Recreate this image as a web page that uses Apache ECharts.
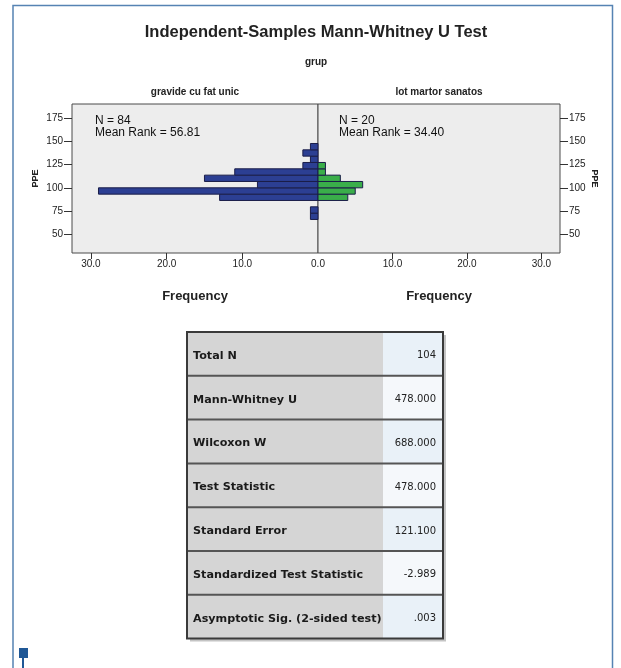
<!DOCTYPE html>
<html>
<head>
<meta charset="utf-8">
<script src="https://cdn.jsdelivr.net/npm/echarts@6/dist/echarts.min.js"></script>
<style>
  html, body { margin: 0; padding: 0; background: #ffffff; }
  #chart { width: 621px; height: 668px; }
</style>
</head>
<body>
<div id="chart"></div>
<script>
// PPE histogram bins (lower / upper edge of each bin)
const binLow  = [66.0, 72.8, 79.6, 86.4, 93.2, 100.0, 106.8, 113.6, 120.4, 127.2, 134.0, 140.8];
const binHigh = [72.8, 79.6, 86.4, 93.2, 100.0, 106.8, 113.6, 120.4, 127.2, 134.0, 140.8, 147.6];
// Frequencies per bin for each group
const countSingle  = [1, 1, 0, 13, 29, 8, 15, 11, 2, 1, 2, 1];   // N = 84
const countControl = [0, 0, 0, 4, 5, 6, 3, 1, 1, 0, 0, 0];       // N = 20

const groupNames = ['gravide cu fat unic', 'lot martor sanatos'];
const groupN = [84, 20];
const meanRanks = ['56.81', '34.40'];

const ppeTicks = [50, 75, 100, 125, 150, 175];
const freqTicksLeft = [10, 20, 30];
const freqTicksRight = [0, 10, 20, 30];

const tableLabels = ['Total N', 'Mann-Whitney U', 'Wilcoxon W', 'Test Statistic',
  'Standard Error', 'Standardized Test Statistic', 'Asymptotic Sig. (2-sided test)'];
const tableValues = ['104', '478.000', '688.000', '478.000', '121.100', '-2.989', '.003'];

const FONT = '"Liberation Sans", Arial, sans-serif';
const TFONT = '"DejaVu Sans", Tahoma, sans-serif';

function binRender(params, api) {
  const lo = api.value(0), hi = api.value(1), c = api.value(2);
  if (!c) return null;
  const a = api.coord([0, lo]);
  const b = api.coord([c, hi]);
  return {
    type: 'rect',
    shape: {
      x: Math.min(a[0], b[0]), y: Math.min(a[1], b[1]),
      width: Math.abs(b[0] - a[0]), height: Math.abs(b[1] - a[1])
    },
    style: { fill: api.visual('color'), stroke: '#1a1d48', lineWidth: 1 }
  };
}

function yAxisDef(idx, pos, nameRotate, gap) {
  return {
    type: 'value', gridIndex: idx, position: pos, min: 30, max: 190,
    name: 'PPE', nameLocation: 'middle', nameGap: gap, nameRotate: nameRotate,
    nameTextStyle: { fontFamily: FONT, fontWeight: 'bold', fontSize: 9, color: '#222' },
    axisLine: { show: false, onZero: false },
    splitLine: { show: false },
    axisTick: { show: true, length: 8, customValues: ppeTicks, lineStyle: { color: '#333' } },
    axisLabel: { customValues: ppeTicks, fontFamily: FONT, fontSize: 10, color: '#222', margin: 9 }
  };
}

function xAxisDef(idx, inverse, labelTicks) {
  return {
    type: 'value', gridIndex: idx, inverse: inverse, min: 0, max: 32.5,
    name: 'Frequency', nameLocation: 'middle', nameGap: 37,
    nameTextStyle: { fontFamily: FONT, fontWeight: 'bold', fontSize: 13, color: '#222' },
    axisLine: { show: false, onZero: false },
    splitLine: { show: false },
    axisTick: { show: true, length: 6, customValues: [10, 20, 30], lineStyle: { color: '#333' } },
    axisLabel: { customValues: labelTicks, formatter: v => v.toFixed(1),
      fontFamily: FONT, fontSize: 10, color: '#222', margin: 6 }
  };
}

// Statistics table drawn as graphic elements
const tbl = { x: 187, y: 332, w: 256, rowH: 43.8, split: 383 };
const tableEls = [];
tableEls.push({ type: 'rect', shape: { x: tbl.x + 3, y: tbl.y + 3, width: tbl.w, height: tbl.rowH * 7 },
  style: { fill: '#c4c4c4' }, z: 1 });
tableLabels.forEach((lab, i) => {
  const y = tbl.y + i * tbl.rowH;
  tableEls.push({ type: 'rect', shape: { x: tbl.x, y: y, width: tbl.split - tbl.x, height: tbl.rowH },
    style: { fill: '#d5d5d5' }, z: 2 });
  tableEls.push({ type: 'rect', shape: { x: tbl.split, y: y, width: tbl.x + tbl.w - tbl.split, height: tbl.rowH },
    style: { fill: i % 2 === 0 ? '#e9f1f8' : '#f5f8fb' }, z: 2 });
  tableEls.push({ type: 'text', x: tbl.x + 6, y: y + tbl.rowH / 2 + 2, z: 4,
    style: { text: lab, font: 'bold 11.2px ' + TFONT, fill: '#1a1a1a', textVerticalAlign: 'middle' } });
  tableEls.push({ type: 'text', x: tbl.x + tbl.w - 7, y: y + tbl.rowH / 2 + 2, z: 4,
    style: { text: tableValues[i], font: '10px ' + TFONT, fill: '#222', textAlign: 'right', textVerticalAlign: 'middle' } });
  if (i > 0) {
    tableEls.push({ type: 'line', shape: { x1: tbl.x, y1: y, x2: tbl.x + tbl.w, y2: y },
      style: { stroke: '#555555', lineWidth: 2 }, z: 3 });
  }
});
tableEls.push({ type: 'rect', shape: { x: tbl.x, y: tbl.y, width: tbl.w, height: tbl.rowH * 7 },
  style: { fill: 'none', stroke: '#3a3a3a', lineWidth: 2 }, z: 5 });

const chart = echarts.init(document.getElementById('chart'), null, { renderer: 'canvas' });
chart.setOption({
  backgroundColor: '#ffffff',
  animation: false,
  grid: [
    { left: 72, top: 104, width: 246, height: 149, show: true, backgroundColor: '#ededed',
      borderColor: '#4a4a4a', borderWidth: 1 },
    { left: 318, top: 104, width: 242, height: 149, show: true, backgroundColor: '#ededed',
      borderColor: '#4a4a4a', borderWidth: 1 }
  ],
  xAxis: [xAxisDef(0, true, freqTicksLeft), xAxisDef(1, false, freqTicksRight)],
  yAxis: [yAxisDef(0, 'left', 90, 32), yAxisDef(1, 'right', -90, 30)],
  series: [
    { type: 'custom', xAxisIndex: 0, yAxisIndex: 0, renderItem: binRender,
      itemStyle: { color: '#2c3f93' }, encode: { x: 2, y: [0, 1] },
      data: binLow.map((lo, i) => [lo, binHigh[i], countSingle[i]]) },
    { type: 'custom', xAxisIndex: 1, yAxisIndex: 1, renderItem: binRender,
      itemStyle: { color: '#3aae4a' }, encode: { x: 2, y: [0, 1] },
      data: binLow.map((lo, i) => [lo, binHigh[i], countControl[i]]) }
  ],
  graphic: [
    // page frame
    { type: 'polyline', shape: { points: [[13, 668], [13, 5.5], [612.5, 5.5], [612.5, 668]] },
      style: { stroke: '#5683b3', lineWidth: 1.5, fill: 'none' } },
    { type: 'rect', shape: { x: 19, y: 648, width: 9, height: 10 }, style: { fill: '#1f5896' } },
    { type: 'line', shape: { x1: 23, y1: 658, x2: 23, y2: 668 }, style: { stroke: '#1f5896', lineWidth: 2 } },
    // headings
    { type: 'text', x: 316, y: 32, style: { text: 'Independent-Samples Mann-Whitney U Test',
      font: 'bold 16.5px ' + FONT, fill: '#222', textAlign: 'center', textVerticalAlign: 'middle' } },
    { type: 'text', x: 316, y: 62, style: { text: 'grup',
      font: 'bold 10px ' + FONT, fill: '#222', textAlign: 'center', textVerticalAlign: 'middle' } },
    { type: 'text', x: 195, y: 92, style: { text: groupNames[0],
      font: 'bold 10px ' + FONT, fill: '#222', textAlign: 'center', textVerticalAlign: 'middle' } },
    { type: 'text', x: 439, y: 92, style: { text: groupNames[1],
      font: 'bold 10px ' + FONT, fill: '#222', textAlign: 'center', textVerticalAlign: 'middle' } },
    // group annotations
    { type: 'text', x: 95, y: 121, z: 10, style: { text: 'N = ' + groupN[0],
      font: '12px ' + FONT, fill: '#111', textVerticalAlign: 'middle' } },
    { type: 'text', x: 95, y: 133, z: 10, style: { text: 'Mean Rank = ' + meanRanks[0],
      font: '12px ' + FONT, fill: '#111', textVerticalAlign: 'middle' } },
    { type: 'text', x: 339, y: 121, z: 10, style: { text: 'N = ' + groupN[1],
      font: '12px ' + FONT, fill: '#111', textVerticalAlign: 'middle' } },
    { type: 'text', x: 339, y: 133, z: 10, style: { text: 'Mean Rank = ' + meanRanks[1],
      font: '12px ' + FONT, fill: '#111', textVerticalAlign: 'middle' } },
    { type: 'group', children: tableEls }
  ]
});
</script>
</body>
</html>
